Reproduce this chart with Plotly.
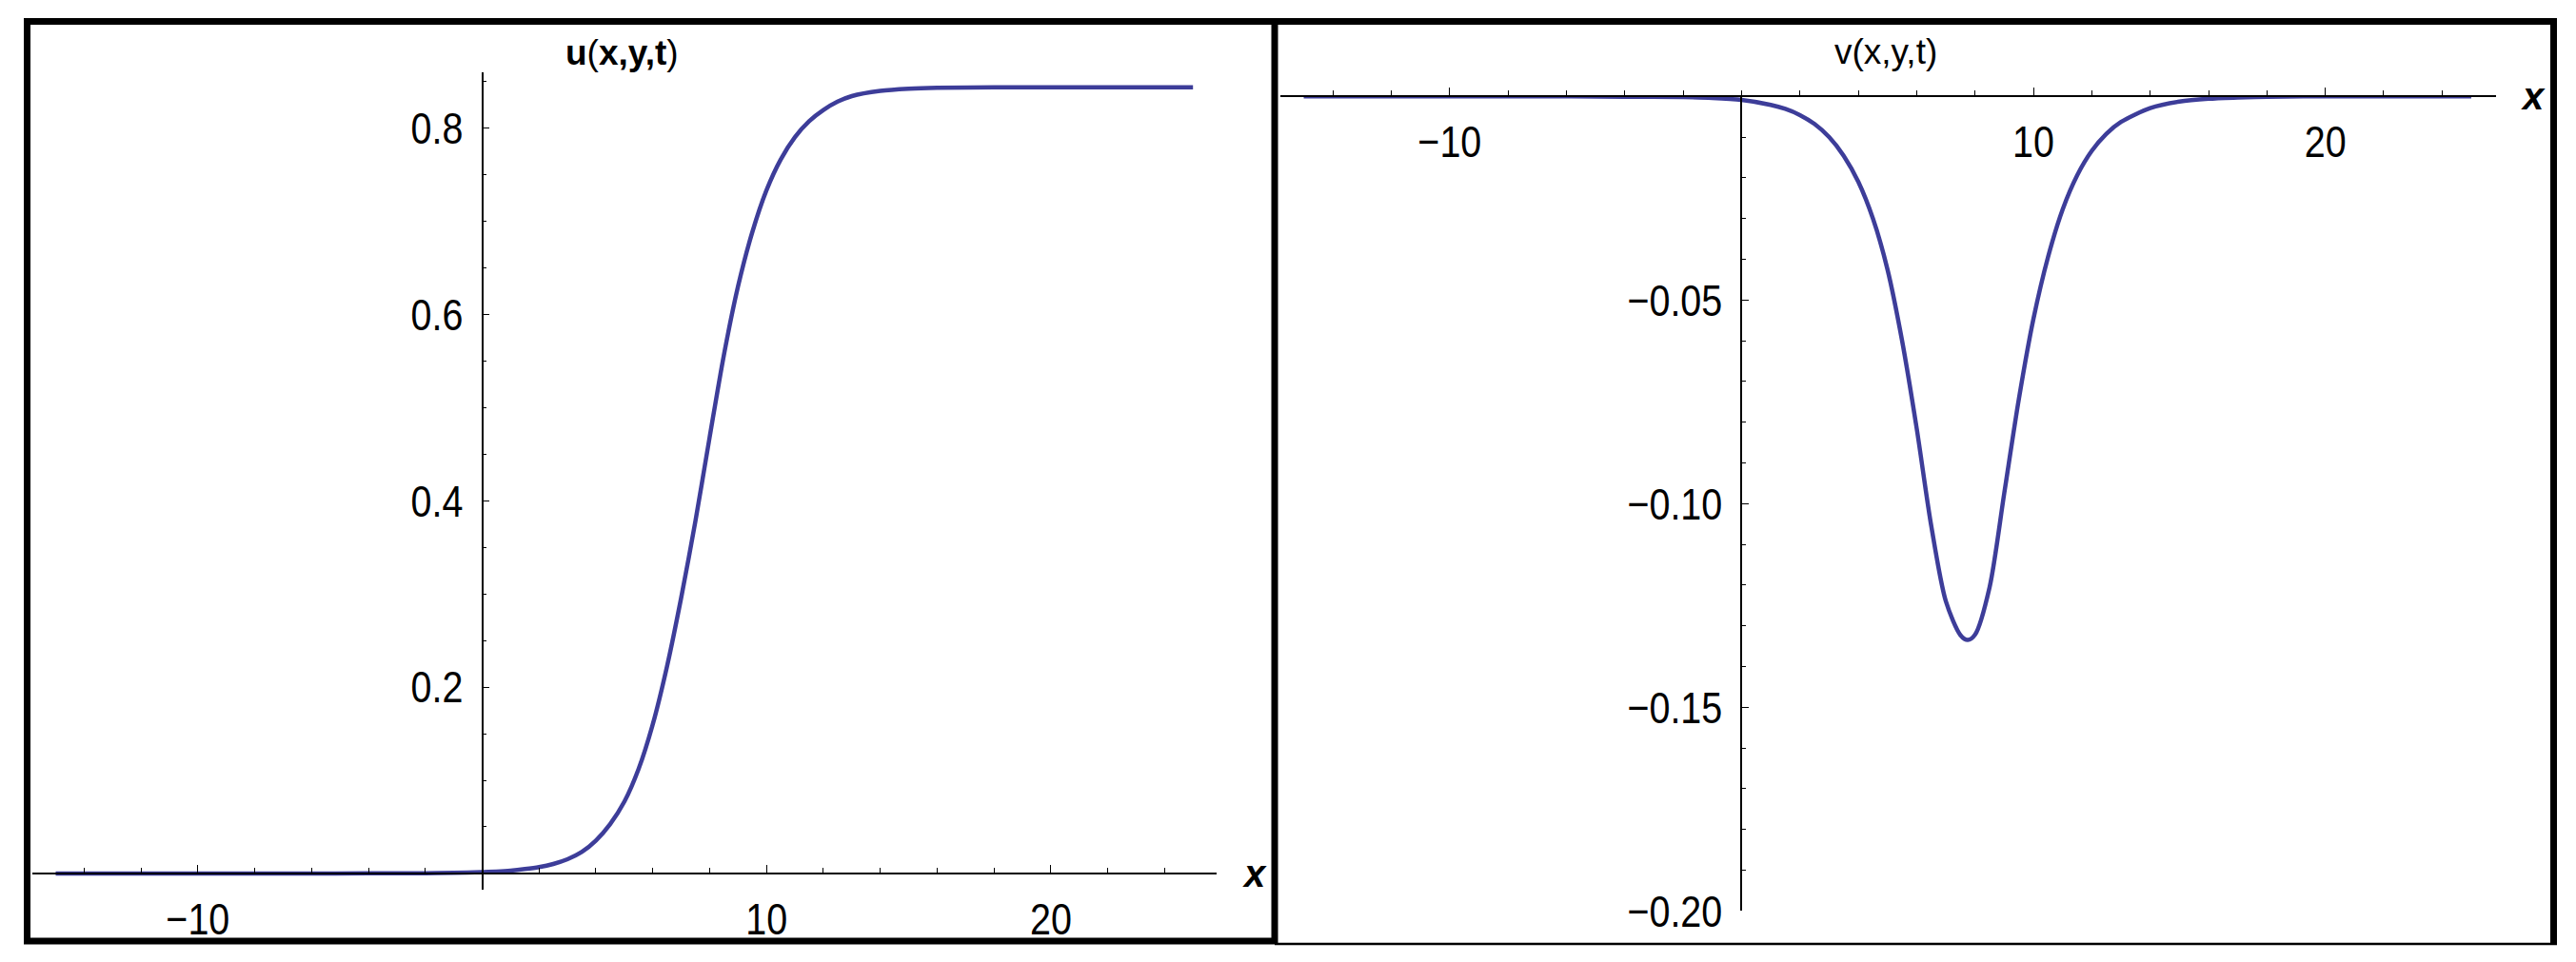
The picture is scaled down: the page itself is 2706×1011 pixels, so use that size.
import plotly.graph_objects as go

# u(x,y,t)
x_u = [-15, -10, -6, -4, -2, -1, 0, 0.5, 1, 1.5, 2, 2.5, 3, 3.5, 4, 4.5, 5, 5.5, 6,
       6.5, 7, 7.5, 8, 8.5, 9, 9.5, 10, 10.5, 11, 11.5, 12, 12.5, 13, 14, 15, 16,
       18, 20, 25]
u_vals = [0.0, 0.0, 0.0, 0.0001, 0.0003, 0.0006, 0.0014, 0.0021, 0.0031, 0.0047,
          0.0068, 0.0102, 0.0153, 0.0230, 0.0354, 0.053, 0.077, 0.112, 0.160,
          0.222, 0.296, 0.378, 0.468, 0.556, 0.630, 0.688, 0.733, 0.766, 0.790,
          0.807, 0.819, 0.828, 0.834, 0.8395, 0.8418, 0.8428, 0.8433, 0.8435,
          0.8435]

# v(x,y,t)
x_v = [-15, -6, -4, -2, -1, 0, 1, 1.5, 2, 2.5, 3, 3.5, 4, 4.5, 5, 5.5, 6, 6.5, 7,
       7.5, 7.75, 8, 8.5, 9, 9.5, 10, 10.5, 11, 11.5, 12, 12.5, 13, 14, 15, 16,
       17, 18, 20, 25]
v_vals = [0.0, 0.0, -0.0001, -0.0002, -0.0004, -0.0009, -0.0021, -0.0031, -0.0046,
          -0.0068, -0.0100, -0.0146, -0.0210, -0.0300, -0.0425, -0.0600, -0.0815,
          -0.1055, -0.1240, -0.1323, -0.1335, -0.1322, -0.1205, -0.0975, -0.0744,
          -0.0547, -0.0395, -0.0278, -0.0194, -0.0134, -0.0092, -0.0063, -0.0029,
          -0.0013, -0.0006, -0.0003, -0.0001, 0.0, 0.0]

u_ticks = [0.2, 0.4, 0.6, 0.8]
u_ticktext = ["0.2", "0.4", "0.6", "0.8"]
v_ticks = [-0.05, -0.10, -0.15, -0.20]
v_ticktext = ["\u22120.05", "\u22120.10", "\u22120.15", "\u22120.20"]
x_ticks = [-10, 10, 20]
x_ticktext = ["\u221210", "10", "20"]

W, H = 2706, 1011
LINE = "#3d3d99"
TICKFONT = dict(family="Liberation Sans, Arial", size=47, color="black")


def px(p):
    return p / W


def py(p):
    return 1 - p / H


def cross(dom, rng, val):
    # paper position of a data value along an axis
    return dom[0] + (val - rng[0]) / (rng[1] - rng[0]) * (dom[1] - dom[0])


xr1, yr1 = [-15.82, 25.83], [-0.0174, 0.860]
xd1, yd1 = [px(34), px(1278)], [py(935), py(75.5)]
xr2, yr2 = [-15.8, 25.85], [-0.2, 0.0]
xd2, yd2 = [px(1345), px(2622)], [py(957.2), py(101.2)]

fig = go.Figure()
fig.add_trace(go.Scatter(x=x_u, y=u_vals, mode="lines", xaxis="x", yaxis="y",
                         line=dict(color=LINE, width=4.5, shape="spline", smoothing=0.8)))
fig.add_trace(go.Scatter(x=x_v, y=v_vals, mode="lines", xaxis="x2", yaxis="y2",
                         line=dict(color=LINE, width=4.5, shape="spline", smoothing=0.8)))


def xax(dom, rng, pos):
    return dict(domain=dom, range=rng, anchor="free", position=pos, showline=True,
                linecolor="black", linewidth=1.5, showgrid=False, zeroline=False,
                tickmode="array", tickvals=x_ticks, ticktext=x_ticktext,
                ticks="inside", ticklen=8, tickwidth=1.2, tickcolor="black",
                minor=dict(ticks="inside", ticklen=5, tickwidth=1, tickcolor="black",
                           tick0=0, dtick=2),
                tickfont=TICKFONT, ticklabelstandoff=7, automargin=False,
                fixedrange=True)


def yax(dom, rng, pos, vals, text, minor_step):
    return dict(domain=dom, range=rng, anchor="free", position=pos, showline=True,
                linecolor="black", linewidth=1.5, showgrid=False, zeroline=False,
                tickmode="array", tickvals=vals, ticktext=text,
                ticks="inside", ticklen=7, tickwidth=1.2, tickcolor="black",
                minor=dict(ticks="inside", ticklen=4, tickwidth=1, tickcolor="black",
                           tick0=0, dtick=minor_step),
                tickfont=TICKFONT, ticklabelstandoff=10, automargin=False,
                fixedrange=True)


fig.update_layout(
    width=W, height=H, margin=dict(l=0, r=0, t=0, b=0, autoexpand=False),
    paper_bgcolor="white", plot_bgcolor="white", showlegend=False,
    xaxis=xax(xd1, xr1, cross(yd1, yr1, 0)),
    yaxis=yax(yd1, yr1, cross(xd1, xr1, 0), u_ticks, u_ticktext, 0.05),
    xaxis2=xax(xd2, xr2, cross(yd2, yr2, 0)),
    yaxis2=yax(yd2, yr2, cross(xd2, xr2, 0), v_ticks, v_ticktext, 0.01),
)

title_font = dict(family="Liberation Sans, Arial", size=37, color="black")
label_font = dict(family="Liberation Sans, Arial", size=40, color="black")
note = dict(xref="paper", yref="paper", showarrow=False, xanchor="center", yanchor="middle")
fig.add_annotation(x=px(653), y=py(56), text="<b>u</b>(<b>x,y,t</b>)", font=title_font, **note)
fig.add_annotation(x=px(1981), y=py(55), text="v(x,y,t)", font=title_font, **note)
fig.add_annotation(x=px(1318), y=py(918), text="<b><i>x</i></b>", font=label_font, **note)
fig.add_annotation(x=px(2661), y=py(101), text="<b><i>x</i></b>", font=label_font, **note)

# frames round the two panels
frame = dict(xref="paper", yref="paper", layer="above")
fig.add_shape(type="rect", x0=px(28.5), x1=px(1339), y0=py(989), y1=py(22.5),
              line=dict(color="black", width=7), **frame)
fig.add_shape(type="line", x0=px(1339), x1=px(2686), y0=py(22.5), y1=py(22.5),
              line=dict(color="black", width=7), **frame)
fig.add_shape(type="line", x0=px(2682.5), x1=px(2682.5), y0=py(19), y1=py(993),
              line=dict(color="black", width=7), **frame)
fig.add_shape(type="line", x0=px(1339), x1=px(2686), y0=py(992), y1=py(992),
              line=dict(color="black", width=2.5), **frame)

# no page margin; squeeze the tick numbers sideways like the narrow face of the original
js = """
document.body.style.margin='0';
document.body.style.overflow='hidden';
document.querySelectorAll('.xtick text, .ytick text, .x2tick text, .y2tick text').forEach(function(t){
  var w = t.getComputedTextLength();
  t.setAttribute('textLength', (w * 0.84).toFixed(1));
  t.setAttribute('lengthAdjust', 'spacingAndGlyphs');
});
"""
fig.write_html("out.html", config={"displayModeBar": False}, post_script=js)
